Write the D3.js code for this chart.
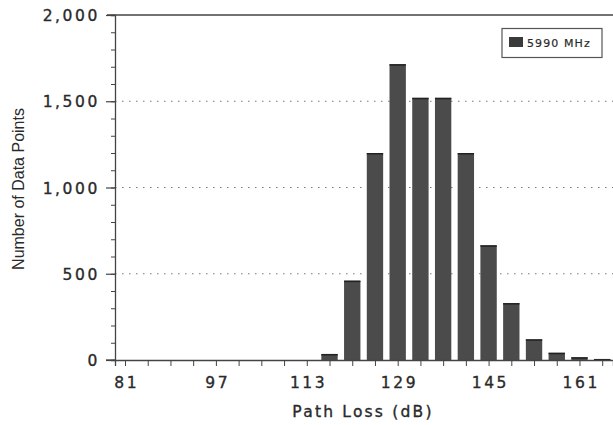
<!DOCTYPE html>
<html>
<head>
<meta charset="utf-8">
<script src="https://cdn.jsdelivr.net/npm/d3@7"></script>
<style>
  html, body { margin: 0; padding: 0; background: #fff; }
  svg { display: block; }
</style>
</head>
<body>
<svg id="chart" width="613" height="425"></svg>
<script>
// ---- data ----
const binCenters = [117, 121, 125, 129, 133, 137, 141, 145, 149, 153, 157, 161, 165];
const counts5990 = [35, 460, 1200, 1715, 1520, 1520, 1200, 665, 330, 120, 42, 16, 6];
const seriesName = "5990 MHz";
const xTickLabels = [81, 97, 113, 129, 145, 161];
const xMinorTicks = [81, 85, 89, 93, 97, 101, 105, 109, 113, 117, 121, 125, 129, 133, 137, 141, 145, 149, 153, 157, 161, 165];
const yTickLabels = [0, 500, 1000, 1500, 2000];
const yGridValues = [500, 1000, 1500];
const yMinorTicks = d3.range(0, 2001, 100);
const xTitle = "Path Loss (dB)";
const yTitle = "Number of Data Points";

// ---- layout ----
const svg = d3.select("#chart");
const plotL = 115, plotR = 613, plotT = 15, plotB = 360;
const x = d3.scaleLinear().domain([79.24, 166.9]).range([plotL, plotR]);
const y = d3.scaleLinear().domain([0, 2000]).range([plotB, plotT]);
const binW = 4;
const barW = (x(binW) - x(0)) * 0.72;
const ink = "#2a2a2a";

function inkText(sel) {
  sel.attr("fill", ink).attr("stroke", ink).attr("stroke-width", 0.35);
}

// grid (dotted)
svg.append("g").selectAll("line").data(yGridValues).join("line")
  .attr("x1", plotL).attr("x2", plotR)
  .attr("y1", d => y(d)).attr("y2", d => y(d))
  .attr("stroke", "#777").attr("stroke-width", 1.2)
  .attr("stroke-dasharray", "1.5,5.5");

// top frame line
svg.append("line").attr("x1", plotL - 8).attr("x2", plotR)
  .attr("y1", y(2000)).attr("y2", y(2000))
  .attr("stroke", "#444").attr("stroke-width", 1.3);

// bars
const bars = svg.append("g");
bars.selectAll("rect").data(binCenters).join("rect")
  .attr("x", d => x(d) - barW / 2)
  .attr("width", barW)
  .attr("y", (d, i) => y(counts5990[i]))
  .attr("height", (d, i) => y(0) - y(counts5990[i]))
  .attr("fill", "#4b4b4b");
bars.selectAll("line").data(binCenters).join("line")
  .attr("x1", d => x(d) - barW / 2).attr("x2", d => x(d) + barW / 2)
  .attr("y1", (d, i) => y(counts5990[i]) + 0.75).attr("y2", (d, i) => y(counts5990[i]) + 0.75)
  .attr("stroke", "#222").attr("stroke-width", 1.5);

// y axis
const yAxis = svg.append("g").attr("transform", `translate(${plotL},0)`)
  .call(d3.axisLeft(y).tickValues(yMinorTicks).tickSize(4).tickFormat(""));
yAxis.select(".domain").attr("stroke", "#444").attr("stroke-width", 1.3);
yAxis.selectAll(".tick line").attr("stroke", "#444");
const yMajor = svg.append("g").attr("transform", `translate(${plotL},0)`)
  .call(d3.axisLeft(y).tickValues(yTickLabels).tickSize(9).tickPadding(6)
    .tickFormat(d3.format(",")));
yMajor.select(".domain").remove();
yMajor.selectAll(".tick line").attr("stroke", "#444").attr("stroke-width", 1.2);
yMajor.selectAll(".tick text")
  .attr("font-family", "DejaVu Sans").attr("font-size", 15.5)
  .attr("letter-spacing", 2.6).attr("dy", "0.36em").call(inkText);

// x axis
const xAxis = svg.append("g").attr("transform", `translate(0,${plotB})`)
  .call(d3.axisBottom(x).tickValues(xMinorTicks).tickSize(6).tickFormat(""));
xAxis.select(".domain").attr("stroke", "#444").attr("stroke-width", 1.3);
xAxis.selectAll(".tick line").attr("stroke", "#444");
svg.append("line").attr("x1", plotL - 9).attr("x2", plotL)
  .attr("y1", plotB).attr("y2", plotB).attr("stroke", "#444").attr("stroke-width", 1.3);
const xLab = svg.append("g").attr("transform", `translate(0,${plotB})`)
  .call(d3.axisBottom(x).tickValues(xTickLabels).tickSize(0).tickPadding(17));
xLab.select(".domain").remove();
xLab.selectAll(".tick text")
  .attr("font-family", "DejaVu Sans").attr("font-size", 15.5)
  .attr("letter-spacing", 2.6).attr("dx", 1.3).call(inkText);

// titles
svg.append("text").attr("x", 363).attr("y", 417)
  .attr("text-anchor", "middle")
  .attr("font-family", "DejaVu Sans").attr("font-size", 15.5)
  .attr("letter-spacing", 2.2).call(inkText).text(xTitle);
svg.append("text")
  .attr("transform", "translate(24,189) rotate(-90)")
  .attr("text-anchor", "middle")
  .attr("font-family", "Liberation Sans").attr("font-size", 16)
  .attr("fill", ink).text(yTitle);

// legend
const lg = svg.append("g");
lg.append("rect").attr("x", 502).attr("y", 28.5).attr("width", 100).attr("height", 29)
  .attr("fill", "#fff").attr("stroke", "#555").attr("stroke-width", 1.2);
lg.append("rect").attr("x", 509).attr("y", 37).attr("width", 14).attr("height", 10)
  .attr("fill", "#3a3a3a");
lg.append("text").attr("x", 527).attr("y", 46.5)
  .attr("font-family", "DejaVu Sans").attr("font-size", 11)
  .attr("letter-spacing", 1.1).attr("fill", ink).attr("stroke", ink).attr("stroke-width", 0.2)
  .text(seriesName);
</script>
</body>
</html>
